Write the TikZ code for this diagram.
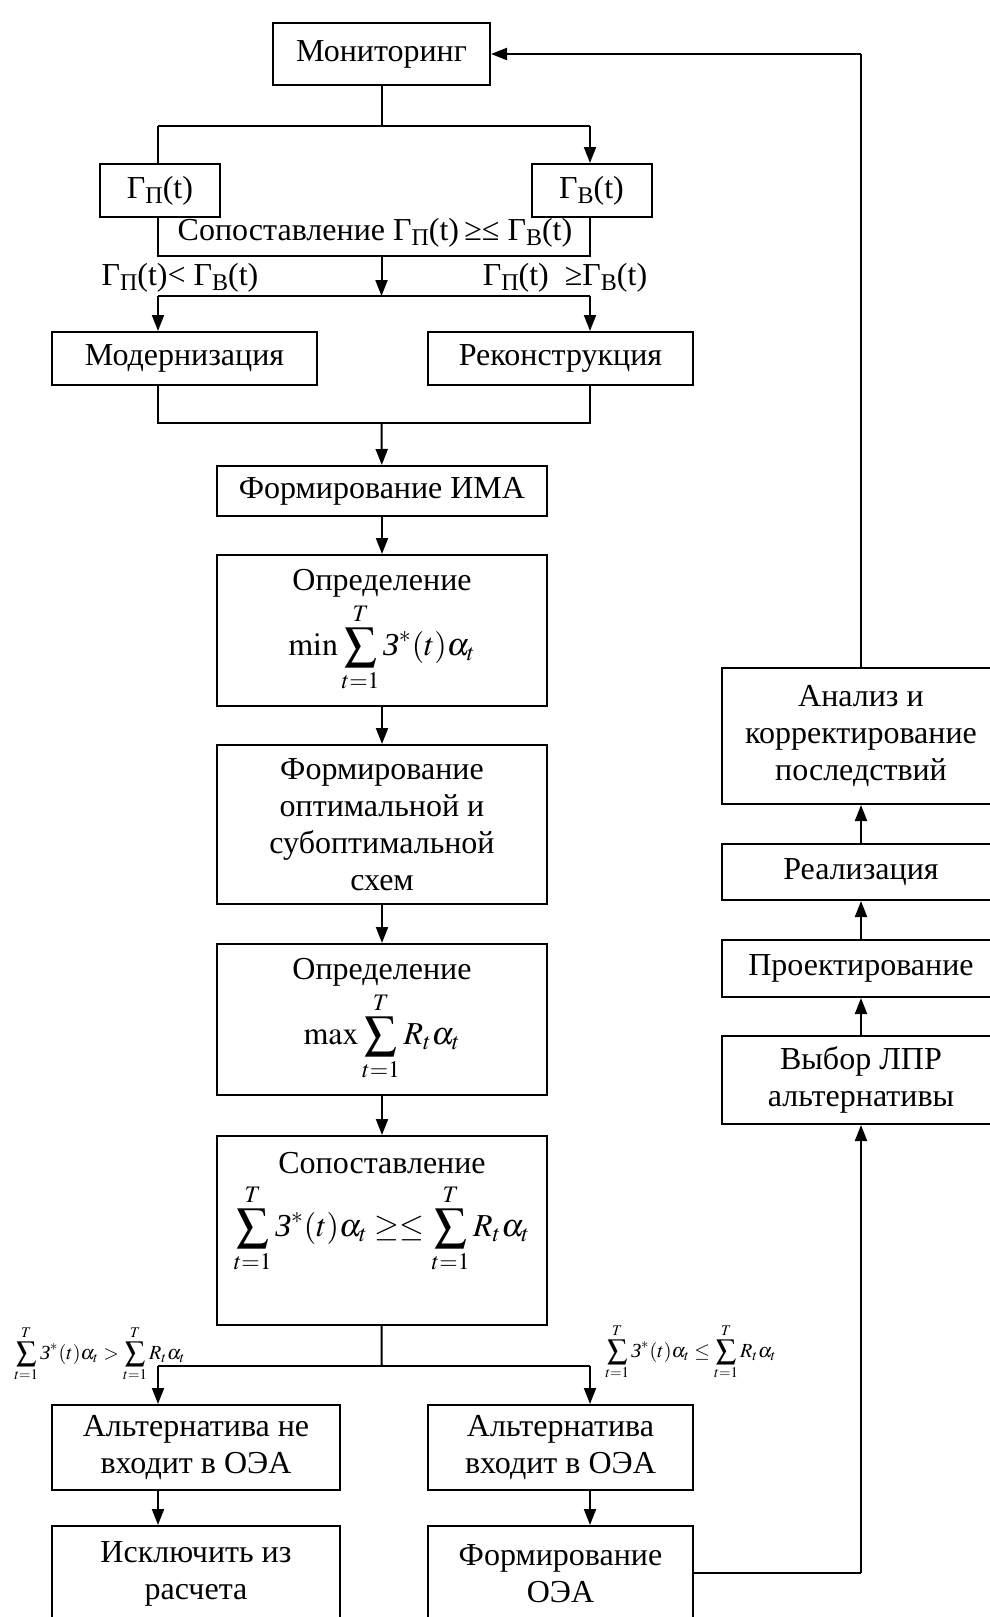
\documentclass[tikz,border=0pt]{standalone}
\usepackage{amsmath}
\usepackage{mathptmx}
\usepackage[no-math]{fontspec}
\setmainfont{Liberation Serif}
\usetikzlibrary{arrows.meta}

\newcommand{\mainsz}{\fontsize{16}{18.6}\selectfont}
\newcommand{\Gm}[1]{Г\raisebox{-0.35ex}{\fontsize{12}{12}\selectfont #1}(t)}
\newcommand{\Ze}{\text{\itshape З}}

\begin{document}
\begin{tikzpicture}[x=0.5pt,y=-0.5pt,line width=1pt,
  box/.style={draw,line width=1pt,inner sep=0pt,align=center,font=\mainsz},
  arr/.style={-{Triangle[length=8pt,width=6pt]}},
  lbl/.style={inner sep=0pt,font=\mainsz}]
\useasboundingbox (0,0) rectangle (990,1617);
\clip (0,0) rectangle (990,1617);

% left part, top
\node[box,minimum width=108.5pt,minimum height=31pt] (mon) at (381.5,54) {Мониторинг};
\node[box,minimum width=60pt,minimum height=26.5pt] (gp) at (160,190.5) {\Gm{П}};
\node[box,minimum width=60pt,minimum height=26.5pt] (gv) at (591.5,190.5) {\Gm{В}};
\node[lbl] (cmptxt) at (375,233) {Сопоставление \Gm{П}\,≥≤\ \Gm{В}};
\node[lbl] (ltxt) at (180,278) {\Gm{П}< \Gm{В}};
\node[lbl] (getxt) at (565,278) {\Gm{П}\ \ ≥\Gm{В}};
\node[box,minimum width=132.5pt,minimum height=26.5pt] (mod) at (184.5,358.5) {Модернизация};
\node[box,minimum width=132.5pt,minimum height=26.5pt] (rek) at (560.5,358.5) {Реконструкция};

% left part, middle column
\node[box,minimum width=165pt,minimum height=25pt] (ima) at (382,491) {Формирование ИМА};
\node[box,minimum width=165pt,minimum height=75.5pt] (opmin) at (382,630.5)
  {Определение\\[2pt] $\displaystyle\min\sum_{t=1}^{T}\Ze^{*}(t)\alpha_{t}$};
\node[box,minimum width=165pt,minimum height=79.5pt] (form) at (382,824.5)
  {Формирование\\оптимальной и\\субоптимальной\\схем};
\node[box,minimum width=165pt,minimum height=75.5pt] (opmax) at (382,1019.5)
  {Определение\\[2pt] $\displaystyle\max\sum_{t=1}^{T}R_{t}\alpha_{t}$};
\node[box,minimum width=165pt,minimum height=94.5pt] (sop) at (382,1230.5) {};
\node[lbl,anchor=north,align=center] (soptxt) at ([yshift=-8pt]sop.north)
  {Сопоставление\\[4pt] $\displaystyle\sum_{t=1}^{T}\Ze^{*}(t)\alpha_{t}\geq\leq\sum_{t=1}^{T}R_{t}\alpha_{t}$};

% bottom
\node[inner sep=0pt,font=\fontsize{10}{12}\selectfont] (fgt) at (100,1354)
  {$\displaystyle\sum_{t=1}^{T}\Ze^{*}(t)\alpha_{t}>\sum_{t=1}^{T}R_{t}\alpha_{t}$};
\node[inner sep=0pt,font=\fontsize{10}{12}\selectfont] (fle) at (691,1352)
  {$\displaystyle\sum_{t=1}^{T}\Ze^{*}(t)\alpha_{t}\leq\sum_{t=1}^{T}R_{t}\alpha_{t}$};
\node[box,minimum width=144pt,minimum height=42.5pt] (altne) at (196,1447.5) {Альтернатива не\\входит в ОЭА};
\node[box,minimum width=132.5pt,minimum height=42.5pt] (altin) at (560.5,1447.5) {Альтернатива\\входит в ОЭА};
\node[box,minimum width=144pt,minimum height=48pt] (iskl) at (196,1574) {Исключить из\\расчета};
\node[box,minimum width=132.5pt,minimum height=48pt] (foea) at (560.5,1574) {Формирование\\ОЭА};

% right column
\node[box,minimum width=139pt,minimum height=68pt] (anal) at (861,736) {Анализ и\\корректирование\\последствий};
\node[box,minimum width=139pt,minimum height=28pt] (real) at (861,872) {Реализация};
\node[box,minimum width=139pt,minimum height=28.5pt] (proj) at (861,968.5) {Проектирование};
\node[box,minimum width=139pt,minimum height=44pt] (vyb) at (861,1080) {Выбор ЛПР\\альтернативы};

% branch points
\coordinate (brM) at (381.5,126);
\coordinate (brL) at (158,126);
\coordinate (brR) at (590,126);
\coordinate (cmL) at (158,256);
\coordinate (cmR) at (590,256);
\coordinate (cmM) at (381.5,256);
\coordinate (spM) at (381.5,296);
\coordinate (spL) at (158,296);
\coordinate (spR) at (590,296);
\coordinate (mgL) at (158,423);
\coordinate (mgR) at (590,423);
\coordinate (mgM) at (381.5,423);
\coordinate (dcM) at (381.5,1366);
\coordinate (dcL) at (158,1366);
\coordinate (dcR) at (590,1366);
\coordinate (fbB) at (861,1573);
\coordinate (fbT) at (861,54);

% connectors
\draw (mon) -- (brM);
\draw (brL) -- (brR);
\draw (brL) -- (brL |- gp.north);
\draw[arr] (brR) -- (brR |- gv.north);
\draw (cmL |- gp.south) -- (cmL) -- (cmR) -- (cmR |- gv.south);
\draw[arr] (cmM) -- (spM);
\draw (spL) -- (spR);
\draw[arr] (spL) -- (spL |- mod.north);
\draw[arr] (spR) -- (spR |- rek.north);
\draw (mgL |- mod.south) -- (mgL) -- (mgR) -- (mgR |- rek.south);
\draw[arr] (mgM) -- (ima);
\draw[arr] (ima) -- (opmin);
\draw[arr] (opmin) -- (form);
\draw[arr] (form) -- (opmax);
\draw[arr] (opmax) -- (sop);
\draw (sop) -- (dcM);
\draw (dcL) -- (dcR);
\draw[arr] (dcL) -- (dcL |- altne.north);
\draw[arr] (dcR) -- (dcR |- altin.north);
\draw[arr] (dcL |- altne.south) -- (dcL |- iskl.north);
\draw[arr] (dcR |- altin.south) -- (dcR |- foea.north);
\draw (foea.east |- fbB) -- (fbB);
\draw[arr] (fbB) -- (vyb);
\draw[arr] (vyb) -- (proj);
\draw[arr] (proj) -- (real);
\draw[arr] (real) -- (anal);
\draw (anal) -- (fbT);
\draw[arr] (fbT) -- (mon);
\end{tikzpicture}
\end{document}
